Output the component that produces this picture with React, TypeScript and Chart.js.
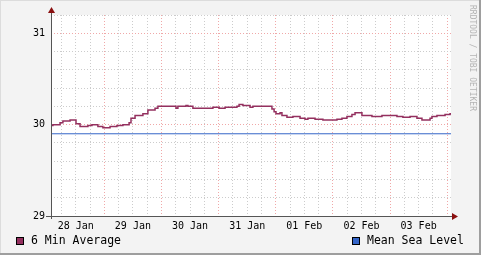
import React, { useEffect, useRef } from "react";
import { Chart, registerables } from "chart.js";

Chart.register(...registerables);

// hours since 28 Jan 00:00
const HOURS = [
  1.6, 2.4, 5.4, 6.6, 9.6, 12.1, 13.8, 17.1, 18.8, 21.3, 23.4, 26.4, 29.3, 31.8, 34.4, 35.2,
  36.9, 40.2, 42.3, 45.3, 46.5, 54.1, 54.9, 58.3, 59.1, 61.2, 69.6, 72.2, 74.7, 79.7, 80.6,
  82.2, 85.2, 86.4, 94.4, 95.3, 96.1, 97.8, 98.6, 100.7, 103.2, 106.2, 108.3, 109.5, 112.5,
  115.8, 121.7, 123.8, 125.9, 128.0, 129.3, 132.2, 136.4, 140.6, 146.9, 149.4, 152.4, 155.3,
  157.4, 160.8, 161.6, 163.7, 167.1, 169.2, 169.6,
];
const SIX_MIN_AVERAGE = [
  29.99, 30.0, 30.02, 30.04, 30.05, 30.01, 29.98, 29.99, 30.0, 29.98, 29.965, 29.98, 29.99, 30.0,
  30.02, 30.07, 30.1, 30.12, 30.16, 30.18, 30.2, 30.18, 30.2, 30.21, 30.2, 30.18, 30.19, 30.18,
  30.19, 30.2, 30.22, 30.21, 30.19, 30.2, 30.17, 30.14, 30.12, 30.13, 30.1, 30.08, 30.09, 30.07,
  30.06, 30.07, 30.06, 30.05, 30.06, 30.07, 30.09, 30.11, 30.13, 30.1, 30.09, 30.1, 30.09, 30.08,
  30.09, 30.07, 30.05, 30.07, 30.09, 30.1, 30.11, 30.12, 30.12,
];
const MEAN_SEA_LEVEL = 29.9;
const SERIES_NAMES = ["6 Min Average", "Mean Sea Level"];
const SERIES_COLORS = ["#94305f", "#3465c8"];

const X_MIN = 1.6;
const X_MAX = 169.6;
const X_TICKS = [6, 12, 18, 24, 30, 36, 42, 48, 54, 60, 66, 72, 78, 84, 90, 96, 102, 108, 114, 120, 126, 132, 138, 144, 150, 156, 162, 168];
const DAY_LABELS = ["28 Jan", "29 Jan", "30 Jan", "31 Jan", "01 Feb", "02 Feb", "03 Feb"];

const Y_MIN = 29;
const Y_MAX = 31.2;
const Y_TICKS = [29, 29.2, 29.4, 29.6, 29.8, 30, 30.2, 30.4, 30.6, 30.8, 31, 31.2];
const Y_LABELS = ["29", "30", "31"];

const WATERMARK = "RRDTOOL / TOBI OETIKER";
const MONO = "'DejaVu Sans Mono', monospace";

const MAJOR = "#f0a8a8";
const MINOR = "#cccccc";

const rrdPlugin = {
  id: "rrdLook",
  beforeDraw(chart: any) {
    const { ctx, width, height, chartArea: a } = chart;
    ctx.save();
    ctx.fillStyle = "#f3f3f3";
    ctx.fillRect(0, 0, width, height);
    ctx.fillStyle = "#dcdcdc";
    ctx.fillRect(0, 0, width, 1);
    ctx.fillRect(0, 0, 1, height);
    ctx.fillStyle = "#9e9e9e";
    ctx.fillRect(0, height - 2, width, 2);
    ctx.fillRect(width - 2, 0, 2, height);
    ctx.fillStyle = "#ffffff";
    ctx.fillRect(a.left, a.top, a.right - a.left, a.bottom - a.top);
    ctx.restore();
  },
  afterDraw(chart: any) {
    const { ctx, chartArea: a } = chart;
    ctx.save();
    // axes
    ctx.strokeStyle = "#555555";
    ctx.lineWidth = 1;
    ctx.beginPath();
    ctx.moveTo(a.left - 5, a.bottom + 0.5);
    ctx.lineTo(a.right + 3, a.bottom + 0.5);
    ctx.moveTo(a.left + 0.5, a.bottom + 3);
    ctx.lineTo(a.left + 0.5, a.top - 3);
    ctx.stroke();
    // arrows
    ctx.fillStyle = "#8b1010";
    ctx.beginPath();
    ctx.moveTo(a.right + 1, a.bottom - 3);
    ctx.lineTo(a.right + 7, a.bottom + 0.5);
    ctx.lineTo(a.right + 1, a.bottom + 4);
    ctx.closePath();
    ctx.fill();
    ctx.beginPath();
    ctx.moveTo(a.left - 3, a.top - 2);
    ctx.lineTo(a.left + 0.5, a.top - 8);
    ctx.lineTo(a.left + 4, a.top - 2);
    ctx.closePath();
    ctx.fill();

    // legend
    const legendX = [16, 352];
    ctx.font = "11.5px " + MONO;
    ctx.textBaseline = "middle";
    ctx.textAlign = "left";
    chart.data.datasets.forEach((ds: any, i: number) => {
      const x = legendX[i];
      ctx.fillStyle = ds.borderColor;
      ctx.fillRect(x, 237, 8, 8);
      ctx.strokeStyle = "#000";
      ctx.lineWidth = 1;
      ctx.strokeRect(x + 0.5, 237.5, 7, 7);
      ctx.fillStyle = "#000";
      ctx.fillText(ds.label, x + 15, 241.5);
    });

    // watermark
    ctx.translate(472, 5);
    ctx.rotate(Math.PI / 2);
    ctx.font = "8px " + MONO;
    ctx.fillStyle = "#b4b4b4";
    ctx.textBaseline = "middle";
    ctx.fillText(WATERMARK, 0, 0);
    ctx.restore();
  },
};

export default function App() {
  const ref = useRef<HTMLCanvasElement>(null);
  useEffect(() => {
    document.body.style.margin = "0";
    const canvas = ref.current!;
    const chart = new Chart(canvas, {
      type: "line",
      data: {
        datasets: [
          {
            label: SERIES_NAMES[0],
            data: HOURS.map((h, i) => ({ x: h, y: SIX_MIN_AVERAGE[i] })),
            borderColor: SERIES_COLORS[0],
            backgroundColor: SERIES_COLORS[0],
            borderWidth: 1.5,
            stepped: true,
            pointRadius: 0,
            fill: false,
          },
          {
            label: SERIES_NAMES[1],
            data: [
              { x: X_MIN, y: MEAN_SEA_LEVEL },
              { x: X_MAX, y: MEAN_SEA_LEVEL },
            ],
            borderColor: SERIES_COLORS[1],
            backgroundColor: SERIES_COLORS[1],
            borderWidth: 1,
            pointRadius: 0,
            fill: false,
          },
        ],
      },
      options: {
        animation: false,
        responsive: false,
        devicePixelRatio: 1,
        layout: { padding: { left: 0, right: 30, top: 15, bottom: 0 } },
        plugins: { legend: { display: false }, tooltip: { enabled: false } },
        scales: {
          x: {
            type: "linear",
            min: X_MIN,
            max: X_MAX,
            afterFit: (s: any) => {
              s.height = 39;
            },
            afterBuildTicks: (s: any) => {
              s.ticks = X_TICKS.map((v) => ({ value: v }));
            },
            grid: {
              drawTicks: false,
              lineWidth: 1,
              color: (c: any) => (c.tick && c.tick.value % 24 === 0 ? MAJOR : MINOR),
            },
            border: { display: false, dash: [1, 2] },
            ticks: {
              autoSkip: false,
              maxRotation: 0,
              padding: 4,
              color: "#000",
              font: { family: MONO, size: 10 },
              callback: (v: any) => {
                const n = Number(v);
                return n % 24 === 12 ? DAY_LABELS[(n - 12) / 24] : "";
              },
            },
          },
          y: {
            type: "linear",
            min: Y_MIN,
            max: Y_MAX,
            afterFit: (s: any) => {
              s.width = 51;
            },
            afterBuildTicks: (s: any) => {
              s.ticks = Y_TICKS.map((v) => ({ value: v }));
            },
            grid: {
              drawTicks: false,
              lineWidth: 1,
              color: (c: any) =>
                c.tick && Math.abs(c.tick.value - Math.round(c.tick.value)) < 1e-6 && c.tick.value < Y_MAX
                  ? MAJOR
                  : MINOR,
            },
            border: { display: false, dash: [1, 2] },
            ticks: {
              padding: 6,
              color: "#000",
              font: { family: MONO, size: 10 },
              callback: (v: any) => {
                const n = Math.round(Number(v) * 10) / 10;
                const idx = Y_LABELS.indexOf(String(n));
                return idx >= 0 ? Y_LABELS[idx] : "";
              },
            },
          },
        },
      },
      plugins: [rrdPlugin],
    } as any);
    return () => chart.destroy();
  }, []);
  return (
    <div style={{ position: "absolute", left: 0, top: 0, width: 481, height: 255 }}>
      <canvas ref={ref} width={481} height={255} style={{ width: 481, height: 255, display: "block" }} />
    </div>
  );
}
